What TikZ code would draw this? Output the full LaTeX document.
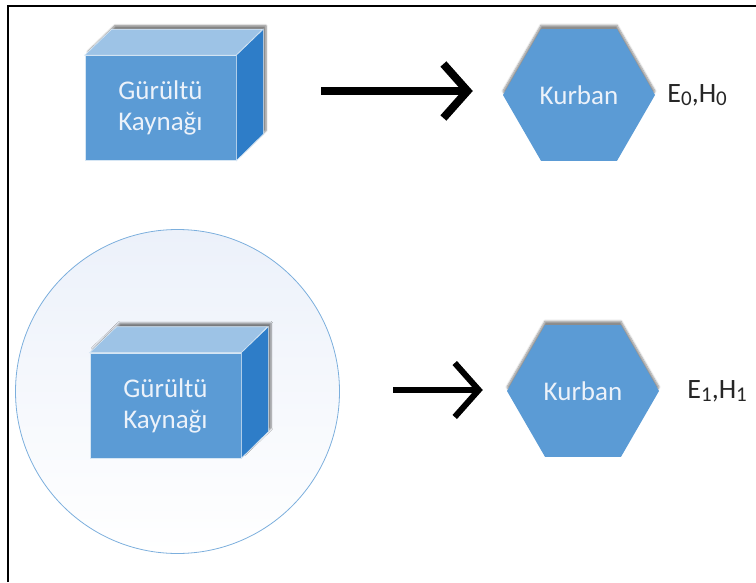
\documentclass[tikz,border=0pt]{standalone}
\usepackage{fontspec}
\setmainfont{Carlito}
\usetikzlibrary{arrows.meta,positioning,shapes.geometric,calc,shadows.blur}

\definecolor{onyuz}{RGB}{91,155,213}
\definecolor{ustyuz}{RGB}{157,195,230}
\definecolor{yanyuz}{RGB}{46,125,200}
\definecolor{yazi}{RGB}{236,242,250}
\definecolor{halkaic}{RGB}{236,241,250}

\tikzset{
  kutu/.style={fill=onyuz, draw=white!75!onyuz, line width=0.6pt,
    minimum width=151pt, minimum height=105pt, inner sep=0pt,
    align=center, text=yazi, font=\fontsize{27}{31}\selectfont},
  golge/.style={blur shadow={shadow xshift=3pt, shadow yshift=4pt, shadow blur steps=6, shadow opacity=50}},
  kurban/.style={regular polygon, regular polygon sides=6, minimum size=152pt,
    inner sep=0pt, fill=onyuz, text=yazi, font=\fontsize{27}{30}\selectfont,
    blur shadow={shadow xshift=0pt, shadow yshift=4pt, shadow blur steps=6, shadow opacity=45}},
  etiket/.style={anchor=west, inner sep=0pt, text=black!85, font=\fontsize{28}{30}\selectfont},
  okucu/.style={line width=#1, line join=miter, -{Straight Barb[length=24pt,width=54pt]}}
}
\providecommand{\alt}[1]{\raisebox{-0.28ex}{\fontsize{21}{21}\selectfont #1}}
% golge: kutunun butun siluetini merkezden
\providecommand{\kutugolge}[1]{%
  \path[fill=white, golge] ($(#1)+(-75.5,52.5)$) -- ++(0,-105) -- ++(27,-26) -- ++(151,0)
    -- ++(0,105) -- ++(-27,26) -- cycle;
}
\providecommand{\kutuyuz}[1]{%
  \draw[fill=ustyuz, draw=white!75!onyuz, line width=0.6pt] (#1.north west) -- ++(27,-26) -- ++(151,0) -- (#1.north east) -- cycle;
  \draw[fill=yanyuz, draw=white!75!onyuz, line width=0.6pt] (#1.north east) -- ++(27,-26) -- ++(0,105) -- (#1.south east) -- cycle;
}

\begin{document}
\begin{tikzpicture}[x=1pt,y=-1pt]
  \useasboundingbox (0,0) rectangle (756,582);
  \draw[line width=2pt] (7.5,582) -- (7.5,6) -- (756,6);

  % ust satir
  \coordinate (k1) at (160.5,108);
  \kutugolge{k1}
  \node[kutu] (gurultu1) at (k1) {Gürültü\\Kaynağı};
  \kutuyuz{gurultu1}
  \node[kurban] (kurban1) at (579,95) {Kurban};
  \node[etiket, right=12pt of kurban1] (etiket1) {E\alt{0},H\alt{0}};
  \coordinate (ok1) at (321,91);
  \draw[okucu=8pt, shorten >=30pt] (ok1) -- (ok1 -| kurban1.west);

  % alt satir
  \node[circle, minimum size=324pt, draw=onyuz!80, line width=0.8pt,
    top color=halkaic, bottom color=white] (halka) at (177.5,391.5) {};
  \coordinate (k2) at (165.5,405.5);
  \kutugolge{k2}
  \node[kutu] (gurultu2) at (k2) {Gürültü\\Kaynağı};
  \kutuyuz{gurultu2}
  \node[kurban] (kurban2) at (583,391) {Kurban};
  \node[etiket, right=28pt of kurban2] (etiket2) {E\alt{1},H\alt{1}};
  \coordinate (ok2) at (393,390);
  \draw[okucu=6pt, shorten >=24pt] (ok2) -- (ok2 -| kurban2.west);
\end{tikzpicture}
\end{document}
